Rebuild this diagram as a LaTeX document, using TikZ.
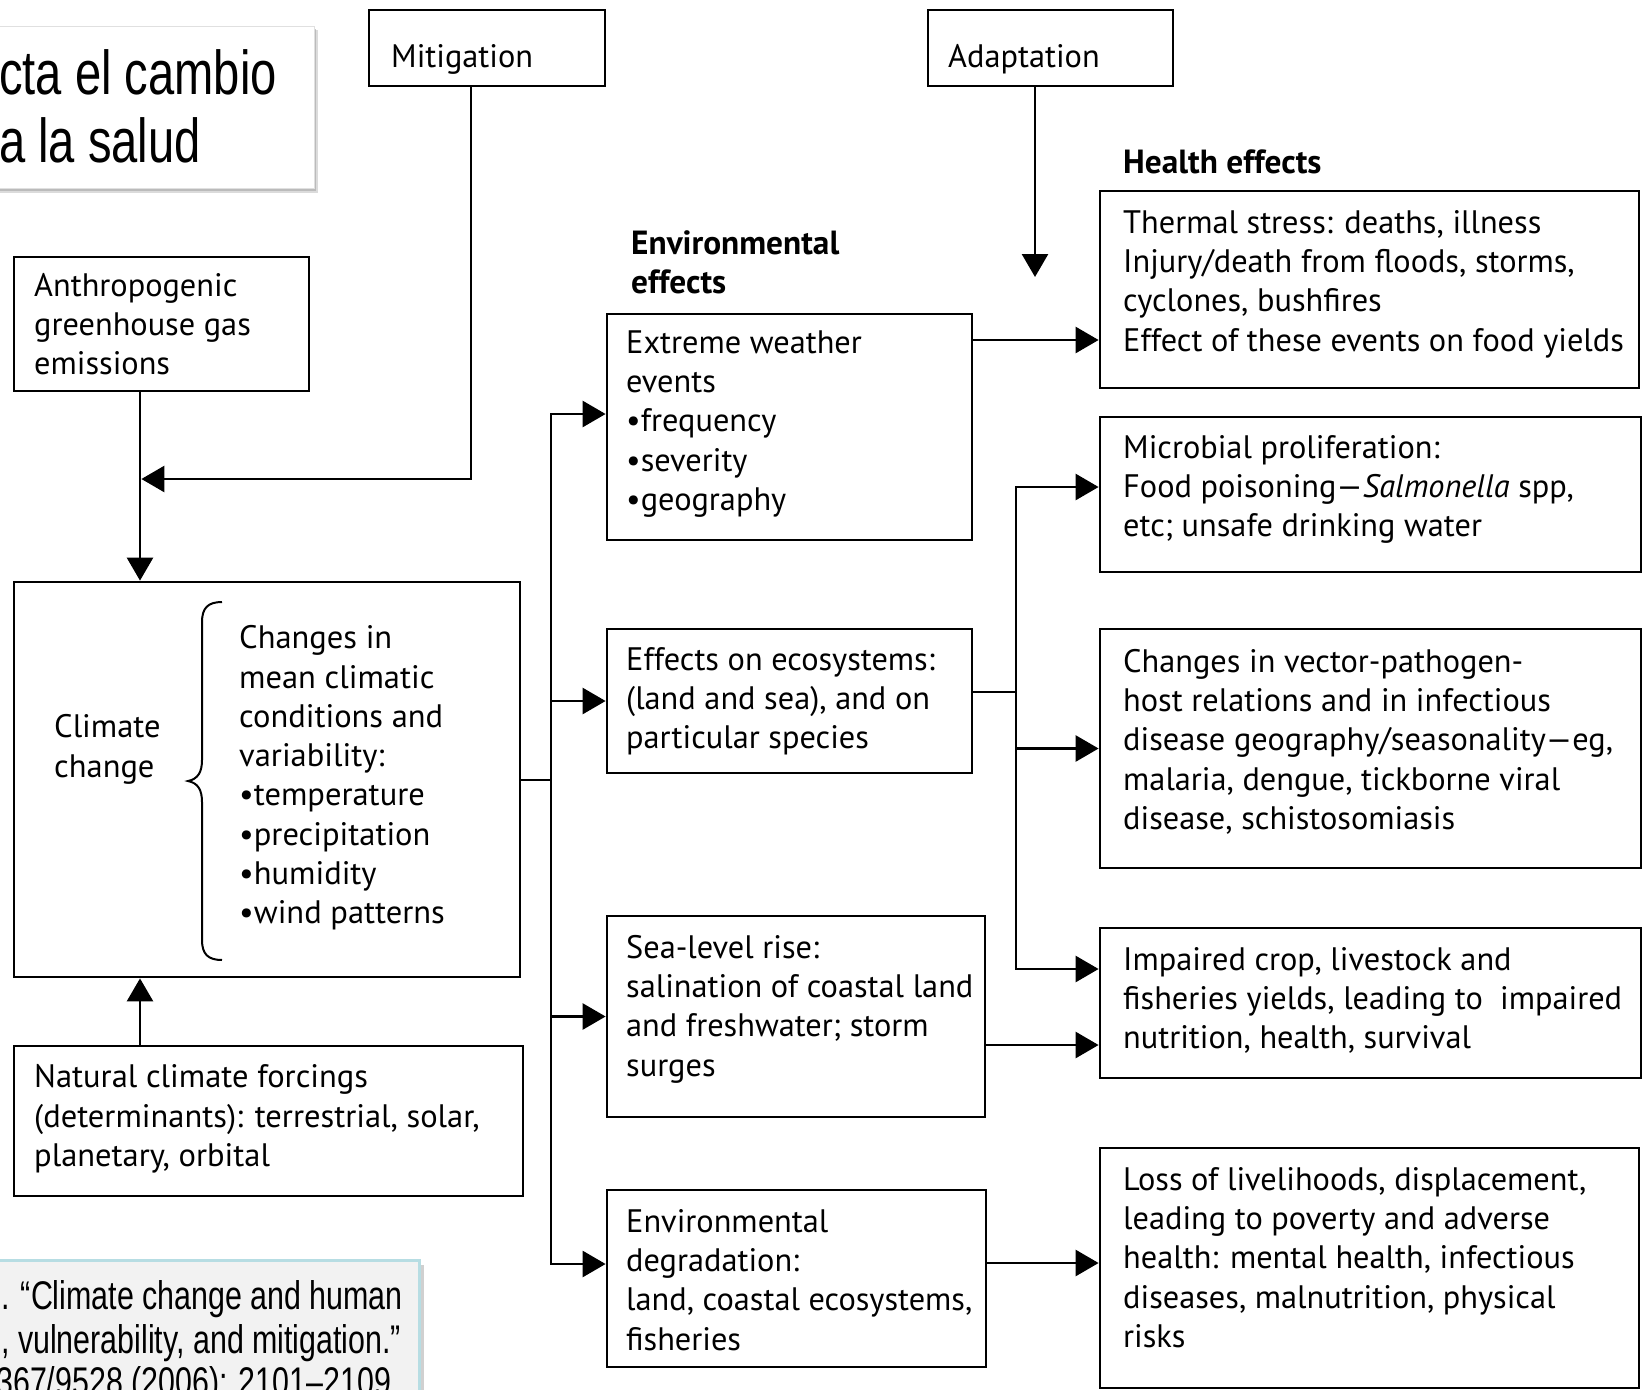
\documentclass[tikz,border=0pt]{standalone}
\usepackage{fontspec}
\setmainfont{PT Sans}
\newfontfamily\wideF{PT Sans}
\newfontfamily\condF[FakeStretch=0.995]{PT Sans}
\newfontfamily\arialN[FakeStretch=0.76]{Liberation Sans}
\usetikzlibrary{arrows.meta,fit}
\newcommand\dfont{\condF\fontsize{32.5}{39.3}\selectfont}
\newcommand\bfont{\condF\bfseries\fontsize{33.5}{39.3}\selectfont}
\newcommand\wfont{\wideF\fontsize{32.5}{39.3}\selectfont}
\definecolor{citeborder}{HTML}{B7DDE3}
\definecolor{citefill}{HTML}{F2F2F2}
\begin{document}
\begin{tikzpicture}[x=1pt,y=-1pt,
  box/.style={draw=black, line width=2.8pt, inner sep=0pt},
  txt/.style={anchor=north west, inner sep=0pt, align=left, font=\dfont},
  wtxt/.style={anchor=north west, inner sep=0pt, align=left, font=\wfont},
  conn/.style={line width=2.7pt},
  arr/.style={conn, -{Triangle[length=23pt,width=26pt]}},
]
\useasboundingbox (0,0) rectangle (1642,1390);
\clip (0,0) rectangle (1642,1390);
\fill[white] (0,0) rectangle (1642,1390);

% title box
\fill[black!20, opacity=0.7] (-10,30) rectangle (318,193);
\fill[black!35, opacity=0.6] (-10,29) rectangle (316,191);
\node[fit={(-10,26) (314,188)}, inner sep=0pt, fill=white, draw=black!12, line width=0.8pt] (titlebox) {};
\node[anchor=base west, inner sep=0pt, font=\arialN\fontsize{62}{68}\selectfont] (t1) at (-1,94) {cta el cambio};
\node[anchor=base west, inner sep=0pt, font=\arialN\fontsize{62}{68}\selectfont] (t2) at (-1,162) {a la salud};

% citation box
\fill[black!30, opacity=0.6] (-10,1265) rectangle (424,1400);
\node[fit={(-10,1260) (419,1400)}, inner sep=0pt, fill=citefill, draw=citeborder, line width=3pt] (citebox) {};
\node[anchor=base west, inner sep=0pt, font=\arialN\fontsize{40}{42}\selectfont] (c1) at (1,1309) {. “Climate change and human};
\node[anchor=base west, inner sep=0pt, font=\arialN\fontsize{40}{42}\selectfont] (c2) at (1,1353) {, vulnerability, and mitigation.”};
\node[anchor=base west, inner sep=0pt, font=\arialN\fontsize{40}{42}\selectfont] (c3) at (-4,1395) {367/9528 (2006): 2101–2109.};

% boxes
\node[box, fit={(369,10) (605,86)}] (mit) {};
\node[box, fit={(928,10) (1173,86)}] (ada) {};
\node[box, fit={(14,257) (309,391)}] (anth) {};
\node[box, fit={(14,582) (520,977)}] (cc) {};
\node[box, fit={(14,1046) (523,1196)}] (nat) {};
\node[box, fit={(607,314) (972,540)}] (ext) {};
\node[box, fit={(607,629) (972,773)}] (eco) {};
\node[box, fit={(607,916) (985,1117)}] (sea) {};
\node[box, fit={(607,1190) (986,1367)}] (deg) {};
\node[box, fit={(1100,191) (1639,388)}] (ther) {};
\node[box, fit={(1100,417) (1641,572)}] (mic) {};
\node[box, fit={(1100,629) (1641,868)}] (vec) {};
\node[box, fit={(1100,928) (1641,1078)}] (imp) {};
\node[box, fit={(1100,1148) (1639,1388)}] (loss) {};

% texts
\node[txt] (mitT) at (391,40) {\strut Mitigation};
\node[txt] (adaT) at (948,40) {\strut Adaptation};
\node[txt] (anthT) at (34,268.5) {\strut Anthropogenic\\greenhouse gas\\emissions};
\node[wtxt] (ccT) at (54,710) {\strut Climate\\change};
\node[wtxt] (chT) at (239,621) {\strut Changes in\\mean climatic\\conditions and\\variability:\\\textbullet temperature\\\textbullet precipitation\\\textbullet humidity\\\textbullet wind patterns};
\node[wtxt] (natT) at (34,1060) {\strut Natural climate forcings\\(determinants): terrestrial, solar,\\planetary, orbital};
\node[txt, font=\bfont] (envH) at (631,226.5) {\strut Environmental\\effects};
\node[txt, font=\bfont] (heaH) at (1123,145.5) {\strut Health effects};
\node[txt] (extT) at (626,325.5) {\strut Extreme weather\\events\\\textbullet frequency\\\textbullet severity\\\textbullet geography};
\node[txt] (ecoT) at (626,642.5) {\strut Effects on ecosystems:\\(land and sea), and on\\particular species};
\node[txt] (seaT) at (626,930.5) {\strut Sea-level rise:\\salination of coastal land\\and freshwater; storm\\surges};
\node[txt] (degT) at (626,1204.5) {\strut Environmental\\degradation:\\land, coastal ecosystems,\\fisheries};
\node[txt] (therT) at (1123,205.5) {\strut Thermal stress: deaths, illness\\Injury/death from floods, storms,\\cyclones, bushfires\\Effect of these events on food yields};
\node[txt] (micT) at (1123,430.5) {\strut Microbial proliferation:\\Food poisoning—\textit{Salmonella} spp,\\etc; unsafe drinking water};
\node[txt] (vecT) at (1123,644.5) {\strut Changes in vector-pathogen-\\host relations and in infectious\\disease geography/seasonality—eg,\\malaria, dengue, tickborne viral\\disease, schistosomiasis};
\node[txt] (impT) at (1123,942.5) {\strut Impaired crop, livestock and\\fisheries yields, leading to\ \ impaired\\nutrition, health, survival};
\node[txt] (lossT) at (1123,1162.5) {\strut Loss of livelihoods, displacement,\\leading to poverty and adverse\\health: mental health, infectious\\diseases, malnutrition, physical\\risks};

% brace
\draw[line width=2pt] (222,602) .. controls (208,602) and (202,608) .. (202,622) -- (202,760) .. controls (202,772) and (198,779) .. (188,781) .. controls (198,783) and (202,790) .. (202,802) -- (202,940) .. controls (202,954) and (208,960) .. (222,960);

% coordinates
\coordinate (vx) at (140,0);
\coordinate (mitS) at (471,86);
\coordinate (mitTip) at (141.4,479);
\coordinate (adaS) at (1035,86);
\coordinate (adaTip) at (1035,277);
\coordinate (busA) at (551,780);
\coordinate (busTop) at (551,414);
\coordinate (busBot) at (551,1264);
\coordinate (e2t) at (972,340);
\coordinate (eco2) at (972,692);
\coordinate (busB) at (1016,692);
\coordinate (busBTop) at (1016,487);
\coordinate (busBBot) at (1016,969);
\coordinate (s2i) at (985,1045);
\coordinate (d2l) at (986,1263);

% connectors
\draw[arr] (mitS) |- (mitTip);
\draw[arr] (adaS) -- (adaTip);
\draw[arr] (anth.south -| vx) -- (cc.north -| vx);
\draw[arr] (nat.north -| vx) -- (cc.south -| vx);
\draw[conn] (cc.east |- busA) -- (busA);
\draw[arr] (busA) |- (ext.west |- busTop);
\draw[arr] (busA) |- (deg.west |- busBot);
\draw[arr] (busA |- eco.west) -- (eco.west);
\draw[arr] (busA |- sea.west) -- (sea.west);
\draw[arr] (e2t) -- (e2t -| ther.west);
\draw[conn] (eco2) -- (busB);
\draw[arr] (busB) |- (mic.west |- busBTop);
\draw[arr] (busB) |- (imp.west |- busBBot);
\draw[arr] (busB |- vec.west) -- (vec.west);
\draw[arr] (s2i) -- (s2i -| imp.west);
\draw[arr] (d2l) -- (d2l -| loss.west);
\end{tikzpicture}
\end{document}
